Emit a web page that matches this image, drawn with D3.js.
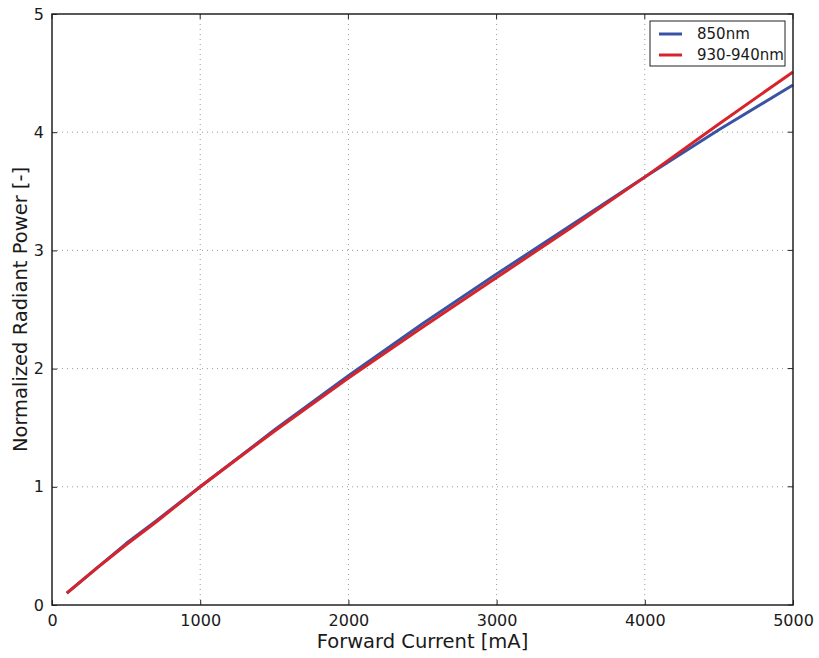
<!DOCTYPE html>
<html><head><meta charset="utf-8">
<script src="https://cdn.jsdelivr.net/npm/d3@7"></script>
<style>body{margin:0;background:#fff;} text{font-family:"DejaVu Sans",sans-serif;fill:#1a1a1a;}</style>
</head><body>
<svg id="c" width="819" height="658"></svg>
<script>
const current = [100, 300, 500, 700, 1000, 1500, 2000, 2500, 3000, 3500, 4000, 4500, 5000];
const power850 = [0.10, 0.31, 0.52, 0.71, 1.00, 1.48, 1.94, 2.38, 2.80, 3.21, 3.62, 4.02, 4.40];
const power930 = [0.10, 0.31, 0.51, 0.70, 1.00, 1.47, 1.92, 2.35, 2.77, 3.19, 3.62, 4.07, 4.51];
const xTicks = [0, 1000, 2000, 3000, 4000, 5000];
const yTicks = [0, 1, 2, 3, 4, 5];
const seriesNames = ["850nm", "930-940nm"];
const seriesColors = ["#3953a4", "#d8232a"];

const svg = d3.select("#c");
const L = 52, R = 793, T = 14, B = 605;
const x = d3.scaleLinear().domain([0, 5000]).range([L, R]);
const y = d3.scaleLinear().domain([0, 5]).range([B, T]);

// grid
svg.append("g").selectAll("line").data(xTicks.slice(1, -1)).join("line")
  .attr("x1", d => x(d)).attr("x2", d => x(d)).attr("y1", T).attr("y2", B)
  .attr("stroke", "#999").attr("stroke-width", 1).attr("stroke-dasharray", "1,4");
svg.append("g").selectAll("line").data(yTicks.slice(1, -1)).join("line")
  .attr("y1", d => y(d)).attr("y2", d => y(d)).attr("x1", L).attr("x2", R)
  .attr("stroke", "#999").attr("stroke-width", 1).attr("stroke-dasharray", "1,4");

// axes with inward ticks
const xAxis = d3.axisBottom(x).tickValues(xTicks).tickFormat(d3.format("d")).tickSizeInner(-5).tickSizeOuter(0).tickPadding(10);
const gx = svg.append("g").attr("transform", `translate(0,${B})`).call(xAxis);
const yAxis = d3.axisLeft(y).tickValues(yTicks).tickFormat(d3.format("d")).tickSizeInner(-5).tickSizeOuter(0).tickPadding(8);
const gy = svg.append("g").attr("transform", `translate(${L},0)`).call(yAxis);
[gx, gy].forEach(g => {
  g.select(".domain").remove();
  g.selectAll("text").attr("font-size", 16).attr("fill", "#1a1a1a").attr("font-family", "DejaVu Sans, sans-serif");
  g.selectAll("line").attr("stroke", "#222");
});
// top/right inward ticks
svg.append("g").selectAll("line").data(xTicks).join("line")
  .attr("x1", d => x(d)).attr("x2", d => x(d)).attr("y1", T).attr("y2", T + 5).attr("stroke", "#222");
svg.append("g").selectAll("line").data(yTicks).join("line")
  .attr("y1", d => y(d)).attr("y2", d => y(d)).attr("x1", R).attr("x2", R - 5).attr("stroke", "#222");

// lines
const line = d3.line().x((d, i) => x(current[i])).y(d => y(d));
[power850, power930].forEach((s, k) => {
  svg.append("path").datum(s).attr("d", line).attr("fill", "none")
    .attr("stroke", seriesColors[k]).attr("stroke-width", 3).attr("stroke-linejoin", "round");
});

// frame
svg.append("rect").attr("x", L).attr("y", T).attr("width", R - L).attr("height", B - T)
  .attr("fill", "none").attr("stroke", "#222").attr("stroke-width", 1.5);

// axis labels
svg.append("text").attr("x", (L + R) / 2).attr("y", 648).attr("text-anchor", "middle")
  .attr("font-size", 19.5).text("Forward Current [mA]");
svg.append("text").attr("transform", `translate(27,${(T + B) / 2}) rotate(-90)`).attr("text-anchor", "middle")
  .attr("font-size", 19.5).text("Normalized Radiant Power [-]");

// legend
const lg = svg.append("g");
lg.append("rect").attr("x", 650).attr("y", 21).attr("width", 135).attr("height", 45)
  .attr("fill", "#fff").attr("stroke", "#222").attr("stroke-width", 1);
seriesNames.forEach((n, i) => {
  const yy = 34 + i * 21;
  lg.append("line").attr("x1", 659).attr("x2", 682).attr("y1", yy).attr("y2", yy)
    .attr("stroke", seriesColors[i]).attr("stroke-width", 3);
  lg.append("text").attr("x", 697).attr("y", yy + 5).attr("font-size", 15).text(n);
});
</script>
</body></html>
